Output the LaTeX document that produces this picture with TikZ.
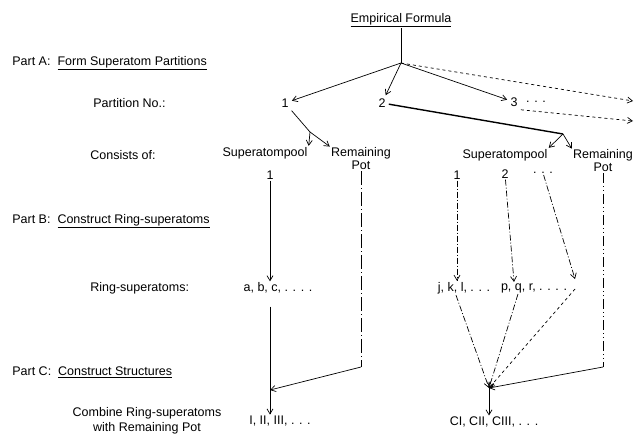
\documentclass[tikz,border=0pt]{standalone}
\usepackage{fontspec}
\setmainfont{Liberation Sans}
\usepackage{tikz}
\usetikzlibrary{positioning,arrows.meta}

\begin{document}
\begin{tikzpicture}[x=1pt,y=-1pt,font=\fontsize{12.5}{13}\selectfont,
  line width=0.7pt,>={Straight Barb[length=5pt,width=6pt]},
  txt/.style={inner sep=1pt,align=center},
  lab/.style={inner sep=0pt,anchor=west},
  pot/.style={dash pattern=on 14pt off 3pt on 1pt off 3pt},
  potb/.style={dash pattern=on 10pt off 3pt on 1pt off 3pt on 1pt off 3pt},
  ring/.style={dash pattern=on 6pt off 2pt on 1pt off 2pt}]
  \useasboundingbox (0,0) rectangle (634,437);
  % left column
  \node[lab] (partA) at (12,63) {Part A:\ \ \underline{Form Superatom Partitions}};
  \node[lab] (partno) at (93,103) {Partition No.:};
  \node[lab] (cons) at (90,155) {Consists of:};
  \node[lab] (partB) at (12,221) {Part B:\ \ \underline{Construct Ring-superatoms}};
  \node[lab] (ringlab) at (90,288) {Ring-superatoms:};
  \node[lab] (partC) at (12,372) {Part C:\ \ \underline{Construct Structures}};
  \node[txt,font=\fontsize{12.5}{15}\selectfont] (comb) at (147,421) {Combine Ring-superatoms\\with Remaining Pot};
  % partitions
  \node[txt] (emp) at (401,20) {\underline{Empirical Formula}};
  \coordinate (hub) at (401,63);
  \node[txt,inner sep=3pt] (p1) at (285,103) {1};
  \node[txt,inner sep=3pt] (p2) at (382,103) {2};
  \node[txt,inner sep=3pt] (p3) at (514,102) {3};
  \node[txt,right=4pt of p3] (p3dots) {. . .};
  \coordinate (more1) at (633,101);
  \coordinate (more2) at (633,121);
  \draw (emp) -- (hub);
  \draw[->] (hub) -- (p1);
  \draw[->] (hub) -- (p2);
  \draw[->] (hub) -- (p3);
  \draw[->,dashed] (hub) -- (more1);
  \draw[->,dashed] (p3.south east) -- (more2);
  % consists of
  \coordinate (f1) at (310,132);
  \coordinate (f2) at (563,134);
  \node[txt] (sp1) at (265,153) {Superatompool};
  \node[txt] (rp1) at (361,159) {Remaining\\Pot};
  \node[txt] (sp2) at (505,155) {Superatompool};
  \node[txt] (rp2) at (603,161) {Remaining\\Pot};
  \draw (p1) -- (f1);
  \draw[->] (f1) -- (sp1.north east);
  \draw[->] (f1) -- (rp1.north west);
  \draw[line width=1.4pt] (p2) -- (f2);
  \draw[->] (f2) -- (sp2.north east);
  \draw[->] (f2) -- (rp2.north west);
  % ring-superatoms
  \node[txt] (s1) at (270,175) {1};
  \node[txt] (s2a) at (457,175) {1};
  \node[txt] (s2b) at (505,174) {2};
  \node[txt] (s2c) at (543,173) {. . .};
  \node[txt] (ring1) at (278,288) {a, b, c, . . . .};
  \node[txt] (ring2) at (464,288) {j, k, l, . . .};
  \node[txt] (ring3) at (534,288) {p, q, r, . . . .};
  \coordinate (ring4) at (575,279);
  \draw[->] (s1) -- (s1 |- ring1.north);
  \draw[->,ring] (s2a) -- (s2a |- ring2.north);
  \draw[->,ring] (s2b) -- ([xshift=-20pt]ring3.north);
  \draw[->,ring] (s2c) -- (ring4);
  % structures
  \node[txt] (rome1) at (280,421) {I, II, III, . . .};
  \node[txt] (rome2) at (494,422) {CI, CII, CIII, . . .};
  \coordinate (j1) at (270,390);
  \coordinate (j2) at (489,388);
  \coordinate (c1) at (361,367);
  \coordinate (c2) at (603,367);
  \draw[->] ([yshift=-12pt]s1 |- ring1.south) -- (s1 |- rome1.north);
  \draw[pot] (rp1) -- (c1);
  \draw[->] (c1) -- (j1);
  \draw[potb] (rp2) -- (c2);
  \draw[->] (c2) -- (j2);
  \draw[->,ring] ([xshift=-8pt]ring2.south) -- (j2);
  \draw[->,ring] ([xshift=-16pt]ring3.south) -- (j2);
  \draw[->,dashed] ([yshift=-10pt]ring4) -- (j2);
  \draw[->] (j2) -- (j2 |- rome2.north);
\end{tikzpicture}
\end{document}
